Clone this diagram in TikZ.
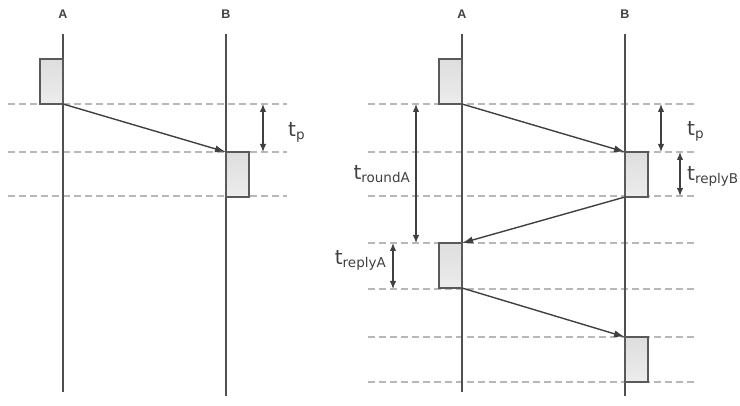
\documentclass[tikz,border=0pt]{standalone}
\usepackage{fontspec}
\setmainfont{Liberation Sans}
\newfontfamily\lblfont{DejaVu Sans}
\usetikzlibrary{arrows.meta}
\definecolor{lifec}{HTML}{505050}
\definecolor{dashc}{HTML}{B8B8B8}
\definecolor{boxc}{HTML}{E6E6E6}
\definecolor{boxd}{HTML}{5A5A5A}
\definecolor{arrc}{HTML}{404040}
\newcommand{\tlab}[1]{{\lblfont\fontsize{20}{20}\selectfont t}\raisebox{-0.5ex}{\lblfont\fontsize{13.5}{13.5}\selectfont #1}}
\begin{document}
\begin{tikzpicture}[x=1pt,y=-1pt,
  lifeline/.style={draw=lifec,line width=1.4pt},
  guide/.style={draw=dashc,line width=1.2pt,dash pattern=on 7pt off 4pt},
  actbox/.style={draw=boxd,line width=1.4pt,top color=boxc!92!gray,bottom color=boxc!75!white,minimum width=23pt,minimum height=45pt,inner sep=0pt,outer sep=0pt},
  msg/.style={draw=arrc,line width=1.4pt,-{Latex[length=11pt,width=7pt]}},
  dim/.style={draw=arrc,line width=1.3pt,{Latex[length=8pt,width=6.5pt]}-{Latex[length=8pt,width=6.5pt]}},
  hdr/.style={font=\fontsize{12.5}{12.5}\selectfont\bfseries,text=arrc,inner sep=0pt},
  lab/.style={text=arrc,inner sep=0pt}]
\path[use as bounding box] (0,0) rectangle (740,406);
% ---- left diagram ----
\node[hdr] (LA) at (63,14) {A};
\node[hdr] (LB) at (226,14) {B};
\coordinate (LAt) at (63,34); \coordinate (LAb) at (63,392);
\coordinate (LBt) at (226,34); \coordinate (LBb) at (226,396);
\foreach \y/\n in {104/a,152/b,196/c}{
  \coordinate (Ls\n) at (8,\y); \coordinate (Le\n) at (287,\y);
  \draw[guide] (Ls\n) -- (Le\n);
}
\draw[lifeline] (LAt) -- (LAb);
\draw[lifeline] (LBt) -- (LBb);
\node[actbox,anchor=south east] (la1) at (63,104) {};
\node[actbox,anchor=north west] (lb1) at (226,152) {};
\draw[msg] (la1.south east) -- (lb1.north west);
\coordinate (Ld1) at (263,104); \coordinate (Ld2) at (263,152);
\draw[dim] (Ld1) -- (Ld2);
\node[lab,anchor=base west] (Ltp) at (288,137) {\tlab{p}};
% ---- right diagram ----
\node[hdr] (RA) at (462,14) {A};
\node[hdr] (RB) at (625,14) {B};
\coordinate (RAt) at (462,34); \coordinate (RAb) at (462,392);
\coordinate (RBt) at (625,34); \coordinate (RBb) at (625,396);
\foreach \y/\n in {104/a,152/b,196/c,243/d,289/e,337/f,382/g}{
  \coordinate (Rs\n) at (368,\y); \coordinate (Re\n) at (695,\y);
  \draw[guide] (Rs\n) -- (Re\n);
}
\draw[lifeline] (RAt) -- (RAb);
\draw[lifeline] (RBt) -- (RBb);
\node[actbox,anchor=south east] (ra1) at (462,104) {};
\node[actbox,anchor=north west] (rb1) at (625,152) {};
\node[actbox,anchor=north east] (ra2) at (462,243) {};
\node[actbox,anchor=north west] (rb2) at (625,337) {};
\draw[msg] (ra1.south east) -- (rb1.north west);
\draw[msg] (rb1.south west) -- (ra2.north east);
\draw[msg] (ra2.south east) -- (rb2.north west);
\coordinate (Rr1) at (416,104); \coordinate (Rr2) at (416,243);
\draw[dim] (Rr1) -- (Rr2);
\node[lab,anchor=base east] (Rround) at (410,180) {\tlab{roundA}};
\coordinate (Ry1) at (393,243); \coordinate (Ry2) at (393,289);
\draw[dim] (Ry1) -- (Ry2);
\node[lab,anchor=base east] (RreplyA) at (386,265) {\tlab{replyA}};
\coordinate (Rp1) at (661,104); \coordinate (Rp2) at (661,152);
\draw[dim] (Rp1) -- (Rp2);
\node[lab,anchor=base west] (Rtp) at (687,136) {\tlab{p}};
\coordinate (Rb1) at (680,152); \coordinate (Rb2) at (680,196);
\draw[dim] (Rb1) -- (Rb2);
\node[lab,anchor=base west] (RreplyB) at (687,181) {\tlab{replyB}};
\end{tikzpicture}
\end{document}
